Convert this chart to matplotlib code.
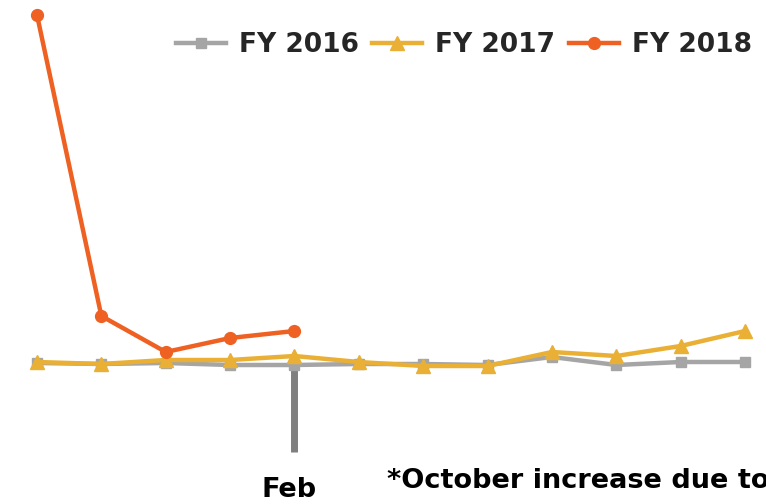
import matplotlib.pyplot as plt

months = ["Oct", "Nov", "Dec", "Jan", "Feb", "Mar", "Apr", "May", "Jun", "Jul", "Aug", "Sep"]
fy2016 = [7, 6, 7, 5, 5, 6, 6, 5, 13, 5, 8, 8]
fy2017 = [8, 6, 10, 10, 14, 8, 4, 4, 18, 14, 24, 39]
fy2018 = [355, 54, 18, 32, 39]

plt.rcParams['font.family'] = ['DejaVu Sans']

fig = plt.figure(figsize=(7.66, 5.04), dpi=100)
ax = fig.add_axes([0, 0, 1, 1])
x = list(range(len(months)))

# marker line hanging below Feb
ax.plot([4, 4], [4, -82], color='#7f7f7f', lw=5, solid_capstyle='butt', zorder=1)

ax.plot(x, fy2016, color='#a5a5a5', lw=3.2, marker='s', ms=7.5, label='FY 2016', zorder=2)
ax.plot(x, fy2017, color='#e9b035', lw=3.2, marker='^', ms=10, label='FY 2017', zorder=3)
ax.plot(x[:len(fy2018)], fy2018, color='#ee6123', lw=3.2, marker='o', ms=8.5, label='FY 2018', zorder=4)

ax.set_xlim(-0.575, 11.326)
ax.set_ylim(-134, 370)
ax.axis('off')

leg = ax.legend(loc='center right', bbox_to_anchor=(752 / 766, 1 - 45 / 504), ncol=3, frameon=False,
                handlelength=1.9, handletextpad=0.5, columnspacing=0.5, borderaxespad=0,
                borderpad=0, prop={'weight': 'bold', 'size': 19})
for t in leg.get_texts():
    t.set_color('#262626')

fig.text(289 / 766, 1 - 497 / 504, "Feb", ha='center', va='baseline',
         fontsize=19.5, fontweight='bold', color='black')
fig.text(387 / 766, 1 - 488 / 504, "*October increase due to", ha='left', va='baseline',
         fontsize=19.5, fontweight='bold', color='black')

fig.savefig('out.png', dpi=100)
